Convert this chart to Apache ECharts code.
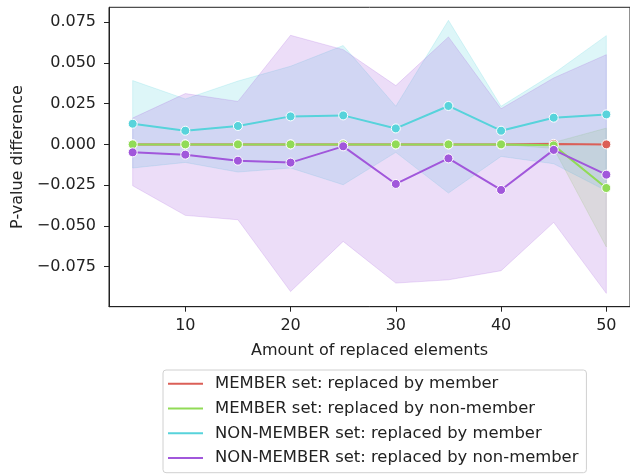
<!DOCTYPE html>
<html>
<head>
<meta charset="utf-8">
<script src="https://cdn.jsdelivr.net/npm/echarts@6/dist/echarts.min.js"></script>
<style>html,body{margin:0;padding:0;background:#fff}#c{width:630px;height:474px}</style>
</head>
<body>
<div id="c"></div>
<script>
const xValues = [5, 10, 15, 20, 25, 30, 35, 40, 45, 50];
const xTicks = [10, 20, 30, 40, 50];
const yTicks = [-0.075, -0.05, -0.025, 0, 0.025, 0.05, 0.075];

const names = [
  'MEMBER set: replaced by member',
  'MEMBER set: replaced by non-member',
  'NON-MEMBER set: replaced by member',
  'NON-MEMBER set: replaced by non-member'
];
const colors = ['#db5f57', '#91db57', '#57d3db', '#a157db'];

const memberByMember = [0, 0, 0, 0, 0, 0, 0, 0, 0.0003, 0];
const memberByMemberLow = [0, 0, 0, 0, 0, 0, 0, 0, 0, 0];
const memberByMemberHigh = [0, 0, 0, 0, 0, 0, 0, 0, 0.0006, 0];

const memberByNon = [0, 0, 0, 0, 0, 0, 0, 0, -0.0006, -0.0268];
const memberByNonLow = [0, 0, 0, 0, 0, 0, 0, 0, -0.0025, -0.0630];
const memberByNonHigh = [0, 0, 0, 0, 0, 0, 0, 0, 0.0012, 0.0100];

const nonByMember = [0.0127, 0.0084, 0.0113, 0.0172, 0.0178, 0.0098, 0.0236, 0.0084, 0.0164, 0.0184];
const nonByMemberLow = [-0.0145, -0.0111, -0.0170, -0.0145, -0.0248, -0.0049, -0.0299, -0.0074, -0.0119, -0.0285];
const nonByMemberHigh = [0.0392, 0.0279, 0.0389, 0.0480, 0.0607, 0.0234, 0.0762, 0.0234, 0.0435, 0.0668];

const nonByNon = [-0.0049, -0.0063, -0.0100, -0.0112, -0.0012, -0.0243, -0.0086, -0.0280, -0.0034, -0.0186];
const nonByNonLow = [-0.0254, -0.0436, -0.0463, -0.0904, -0.0596, -0.0852, -0.0832, -0.0776, -0.0479, -0.0915];
const nonByNonHigh = [0.0162, 0.0312, 0.0264, 0.0670, 0.0582, 0.0361, 0.0660, 0.0219, 0.0408, 0.0551];

const means = [memberByMember, memberByNon, nonByMember, nonByNon];
const lows = [memberByMemberLow, memberByNonLow, nonByMemberLow, nonByNonLow];
const highs = [memberByMemberHigh, memberByNonHigh, nonByMemberHigh, nonByNonHigh];

function hexA(hex, a) {
  const r = parseInt(hex.slice(1, 3), 16), g = parseInt(hex.slice(3, 5), 16), b = parseInt(hex.slice(5, 7), 16);
  return `rgba(${r},${g},${b},${a})`;
}

const FONT = 'DejaVu Sans';
const FS = 16;
const series = [];
means.forEach((m, i) => {
  const bandData = xValues.map((x, k) => [x, lows[i][k], highs[i][k]]);
  series.push({
    type: 'custom', name: 'band' + i, z: 1, silent: true,
    encode: { x: 0, y: [1, 2] },
    data: bandData,
    renderItem: function (params, api) {
      if (params.dataIndex !== 0) return null;
      const pts = [];
      bandData.forEach(d => pts.push(api.coord([d[0], d[2]])));
      for (let k = bandData.length - 1; k >= 0; k--) pts.push(api.coord([bandData[k][0], bandData[k][1]]));
      return {
        type: 'polygon',
        shape: { points: pts },
        style: { fill: hexA(colors[i], 0.2), stroke: hexA(colors[i], 0.2), lineWidth: 1 }
      };
    }
  });
});
means.forEach((m, i) => {
  series.push({
    type: 'line', name: names[i], z: 3 + i,
    data: xValues.map((x, k) => [x, m[k]]),
    symbol: 'circle', symbolSize: 9, showSymbol: true,
    lineStyle: { color: colors[i], width: 2 },
    itemStyle: { color: colors[i], borderColor: '#fff', borderWidth: 1 }
  });
});

const chart = echarts.init(document.getElementById('c'), null, { renderer: 'canvas' });
chart.setOption({
  animation: false,
  color: colors,
  grid: { left: 109, top: 7.3, width: 522.5, height: 299.4, show: true, borderColor: '#222', borderWidth: 1, backgroundColor: 'transparent' },
  xAxis: {
    type: 'value', min: 2.75, max: 52.25,
    name: 'Amount of replaced elements', nameLocation: 'middle', nameGap: 36,
    nameTextStyle: { fontFamily: FONT, fontSize: FS, color: '#222' },
    axisLine: { show: true, onZero: false, lineStyle: { color: '#222', width: 1 } },
    axisTick: { show: true, length: 5, inside: false, customValues: xTicks, lineStyle: { color: '#222' } },
    axisLabel: { customValues: xTicks, fontFamily: FONT, fontSize: FS, color: '#222', margin: 11 },
    splitLine: { show: false }
  },
  yAxis: {
    type: 'value', min: -0.0997, max: 0.0842,
    name: 'P-value difference', nameLocation: 'middle', nameGap: 77, nameRotate: 90,
    nameTextStyle: { fontFamily: FONT, fontSize: FS, color: '#222' },
    axisLine: { show: true, onZero: false, lineStyle: { color: '#222', width: 1 } },
    axisTick: { show: true, length: 5, customValues: yTicks, lineStyle: { color: '#222' } },
    axisLabel: {
      customValues: yTicks, fontFamily: FONT, fontSize: FS, color: '#222', margin: 13,
      formatter: v => (v < -1e-9 ? '\u2212' : '') + Math.abs(v).toFixed(3)
    },
    splitLine: { show: false }
  },
  legend: {
    orient: 'vertical', left: 163, top: 370,
    data: names.map(n => ({ name: n, icon: 'rect' })),
    itemWidth: 35, itemHeight: 2, itemGap: 5.5,
    itemStyle: { borderWidth: 0 },
    padding: [4, 8, 5, 5],
    borderColor: '#d0d0d0', borderWidth: 1, borderRadius: 3, backgroundColor: '#fff',
    textStyle: { fontFamily: FONT, fontSize: 16.4, color: '#222', lineHeight: 19.3, padding: [0, 0, 0, 7] },
    selectedMode: false
  },
  series: series
});
</script>
</body>
</html>
